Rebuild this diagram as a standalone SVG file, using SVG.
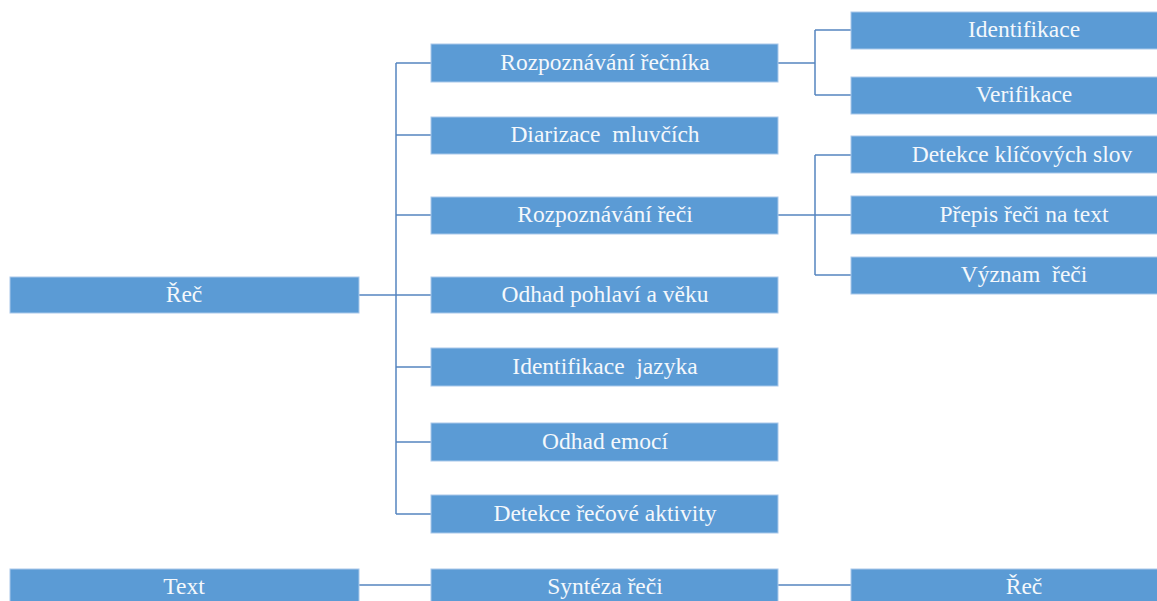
<svg xmlns="http://www.w3.org/2000/svg" width="1157" height="601" viewBox="0 0 1157 601">
<style>
.box{fill:#5b9bd5;stroke:#a9c8ea;stroke-width:1}
.t{font-family:"Liberation Serif","Times New Roman",serif;font-size:23.5px;fill:#f4f8fc;text-anchor:middle;dominant-baseline:central;white-space:pre}
.c{fill:none;stroke:#5585c0;stroke-width:1.5}
</style>
<rect width="1157" height="601" fill="#fff"/>
<g id="connectors">
<path class="c" d="M396 63V514M396 63H431M396 135H431M396 215H431M396 295H431M396 367H431M396 442H431M396 514H431"/>
<path class="c" d="M359 295H396" stroke-width="3"/>
<path class="c" d="M778 63H815M815 30V95M815 30H851M815 95H851"/>
<path class="c" d="M778 215H815M815 155V275M815 155H851M815 215H851M815 275H851"/>
<path class="c" d="M359 585H431M778 585H851" stroke-width="2.5"/>
</g>
<g id="n-rec"><rect class="box" x="10" y="277" width="349" height="36"/><text class="t" x="184" y="294">Řeč</text></g>
<g id="n-rozp-recnika"><rect class="box" x="431" y="44" width="347" height="38"/><text class="t" x="605" y="62">Rozpoznávání řečníka</text></g>
<g id="n-diarizace"><rect class="box" x="431" y="117" width="347" height="37"/><text class="t" x="605" y="134" xml:space="preserve">Diarizace  mluvčích</text></g>
<g id="n-rozp-reci"><rect class="box" x="431" y="197" width="347" height="37"/><text class="t" x="605" y="214">Rozpoznávání řeči</text></g>
<g id="n-odhad-pohlavi"><rect class="box" x="431" y="277" width="347" height="36"/><text class="t" x="605" y="294">Odhad pohlaví a věku</text></g>
<g id="n-ident-jazyka"><rect class="box" x="431" y="348" width="347" height="38"/><text class="t" x="605" y="366" xml:space="preserve">Identifikace  jazyka</text></g>
<g id="n-odhad-emoci"><rect class="box" x="431" y="423" width="347" height="38"/><text class="t" x="605" y="441">Odhad emocí</text></g>
<g id="n-detekce-aktivity"><rect class="box" x="431" y="495" width="347" height="38"/><text class="t" x="605" y="513">Detekce řečové aktivity</text></g>
<g id="n-identifikace"><rect class="box" x="851" y="12" width="310" height="37"/><text class="t" x="1024" y="29">Identifikace</text></g>
<g id="n-verifikace"><rect class="box" x="851" y="77" width="310" height="37"/><text class="t" x="1024" y="94">Verifikace</text></g>
<g id="n-detekce-slov"><rect class="box" x="851" y="136" width="310" height="37"/><text class="t" x="1022" y="154">Detekce klíčových slov</text></g>
<g id="n-prepis"><rect class="box" x="851" y="196" width="310" height="38"/><text class="t" x="1024" y="214">Přepis řeči na text</text></g>
<g id="n-vyznam"><rect class="box" x="851" y="257" width="310" height="37"/><text class="t" x="1024" y="274" xml:space="preserve">Význam  řeči</text></g>
<g id="n-text"><rect class="box" x="10" y="569" width="349" height="40"/><text class="t" x="184" y="586">Text</text></g>
<g id="n-synteza"><rect class="box" x="431" y="569" width="347" height="40"/><text class="t" x="605" y="586">Syntéza řeči</text></g>
<g id="n-rec2"><rect class="box" x="851" y="569" width="310" height="40"/><text class="t" x="1024" y="586">Řeč</text></g>
</svg>
